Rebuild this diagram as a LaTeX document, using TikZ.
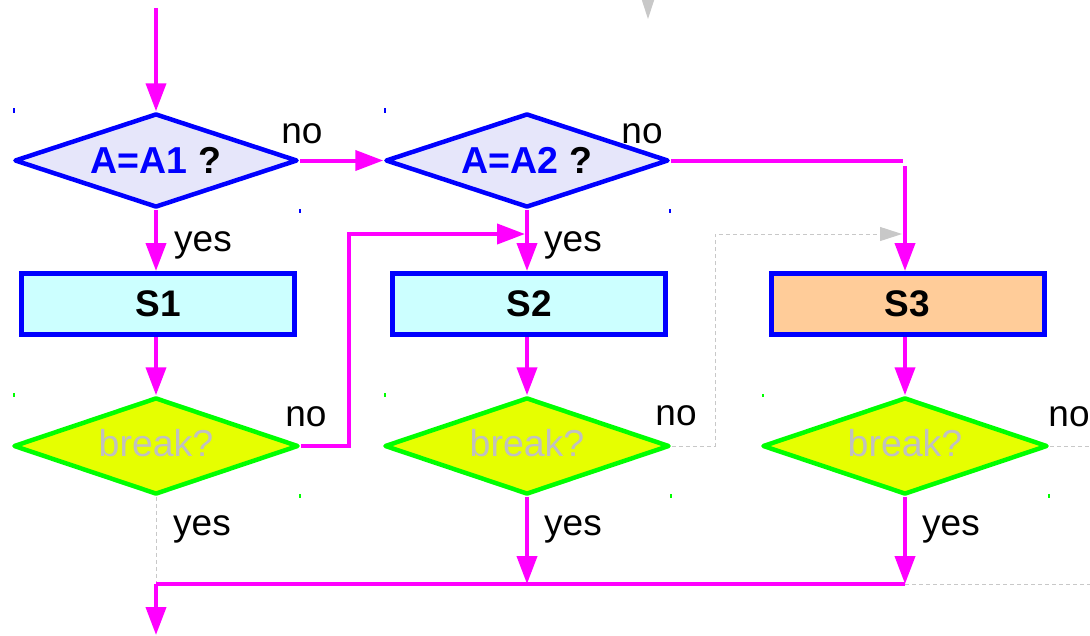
\documentclass[tikz,border=0pt]{standalone}
\usepackage{fontspec}
\setmainfont{Liberation Sans}
\usetikzlibrary{arrows.meta,shapes.geometric}
\definecolor{mag}{HTML}{FF00FF}
\definecolor{dfill}{HTML}{E6E6FA}
\definecolor{rfill}{HTML}{CCFFFF}
\definecolor{ofill}{HTML}{FFCC99}
\definecolor{yfill}{HTML}{E6FF00}
\definecolor{glin}{HTML}{C8C8C8}
\definecolor{gtext}{HTML}{C0C0C0}
\definecolor{pureblue}{HTML}{0000FF}
\definecolor{puregreen}{HTML}{00FF00}
\begin{document}
\begin{tikzpicture}[x=1pt,y=-1pt,
  font=\fontsize{37}{44}\selectfont,
  cond/.style={diamond, draw=pureblue, fill=dfill, line width=4.5pt, line join=round,
    minimum width=283pt, minimum height=94pt, aspect=2.9, inner sep=0pt,
    font=\fontsize{37.5}{44}\selectfont\bfseries},
  brk/.style={diamond, draw=puregreen, fill=yfill, line width=4.5pt, line join=round,
    minimum width=285pt, minimum height=97pt, aspect=2.9, inner sep=0pt, text=gtext,
    font=\fontsize{37.5}{44}\selectfont},
  stepbox/.style={rectangle, draw=pureblue, line width=5pt,
    minimum width=273pt, minimum height=61pt, inner sep=0pt,
    font=\fontsize{37}{44}\selectfont\bfseries},
  mline/.style={draw=mag, line width=4pt},
  marrow/.style={mline, -{Triangle[width=20pt,length=28pt]}},
  gline/.style={draw=glin, line width=1pt, dash pattern=on 4pt off 3pt},
  garrow/.style={gline, -{Triangle[width=14pt,length=22pt]}},
  lbl/.style={anchor=base, inner sep=0pt, text=black},
  tickb/.style={draw=pureblue, line width=1.5pt},
  tickg/.style={draw=puregreen, line width=1.5pt}]
\useasboundingbox (0,0) rectangle (1090,635);
\clip (0,0) rectangle (1090,635);

% nodes
\node[cond] (d1) at (156,160.5) {\textcolor{pureblue}{A=A1} ?};
\node[cond] (d2) at (527,160.5) {\textcolor{pureblue}{A=A2} ?};
\node[stepbox, fill=rfill] (s1) at (158,304) {S1};
\node[stepbox, fill=rfill] (s2) at (529,304) {S2};
\node[stepbox, fill=ofill] (s3) at (907.5,304) {S3};
\node[brk] (b1) at (156,446) {\raisebox{3pt}[\height][\depth]{break?}};
\node[brk] (b2) at (527,446) {\raisebox{3pt}[\height][\depth]{break?}};
\node[brk] (b3) at (905,446) {\raisebox{3pt}[\height][\depth]{break?}};

% coordinates
\coordinate (start) at (156,8);
\coordinate (c1) at (903,160.5);
\coordinate (c2) at (905,166);
\coordinate (c3) at (349,234);
\coordinate (c4) at (525,234);
\coordinate (c5) at (715,234);
\coordinate (c6) at (902,234);
\coordinate (c7) at (1095,446);
\coordinate (c8) at (156,584);
\coordinate (c9) at (905,584);
\coordinate (c10) at (1095,584);
\coordinate (c11) at (156,635);
\coordinate (c12) at (648,-20);
\coordinate (c13) at (648,19);

% connectors
\draw[garrow] (c12) -- (c13);
\draw[marrow] (start) -- (d1.north);
\draw[marrow] (d1.east) -- (d2.west);
\draw[mline] (d2.east) -- (c1);
\draw[marrow] (c2) -- (c2 |- s3.north);
\draw[marrow] (d1.south) -- (d1.south |- s1.north);
\draw[marrow] (d2.south) -- (d2.south |- s2.north);
\draw[marrow] (b1.north |- s1.south) -- (b1.north);
\draw[marrow] (b2.north |- s2.south) -- (b2.north);
\draw[marrow] (b3.north |- s3.south) -- (b3.north);
\draw[marrow] (b1.east) -| (c3) -- (c4);
\draw[garrow] (b2.east) -| (c5) -- (c6);
\draw[gline] (b3.east) -- (c7);
\draw[gline] (b1.south) -- (c8);
\draw[mline] (c8) -- (c9);
\draw[gline] (c9) -- (c10);
\draw[marrow] (b2.south) -- (b2.south |- c8);
\draw[marrow] (b3.south) -- (b3.south |- c8);
\draw[marrow] (c8) -- (c11);

% labels
\node[lbl] at (302,143) {no};
\node[lbl] at (642,143) {no};
\node[lbl] at (306,426) {no};
\node[lbl] at (676,425) {no};
\node[lbl] at (1069,426) {no};
\node[lbl] at (203,251) {yes};
\node[lbl] at (573,251) {yes};
\node[lbl] at (202,535) {yes};
\node[lbl] at (573,535) {yes};
\node[lbl] at (951,535) {yes};

% small corner ticks
\draw[tickb] (14,108) -- (14,113);
\draw[tickb] (300,209) -- (300,213);
\draw[tickb] (385,108) -- (385,113);
\draw[tickb] (670,209) -- (670,213);
\draw[tickg] (14,393) -- (14,397);
\draw[tickg] (300,494) -- (300,498);
\draw[tickg] (385,393) -- (385,397);
\draw[tickg] (671,494) -- (671,498);
\draw[tickg] (763,394) -- (763,397);
\draw[tickg] (1049,494) -- (1049,498);
\end{tikzpicture}
\end{document}
